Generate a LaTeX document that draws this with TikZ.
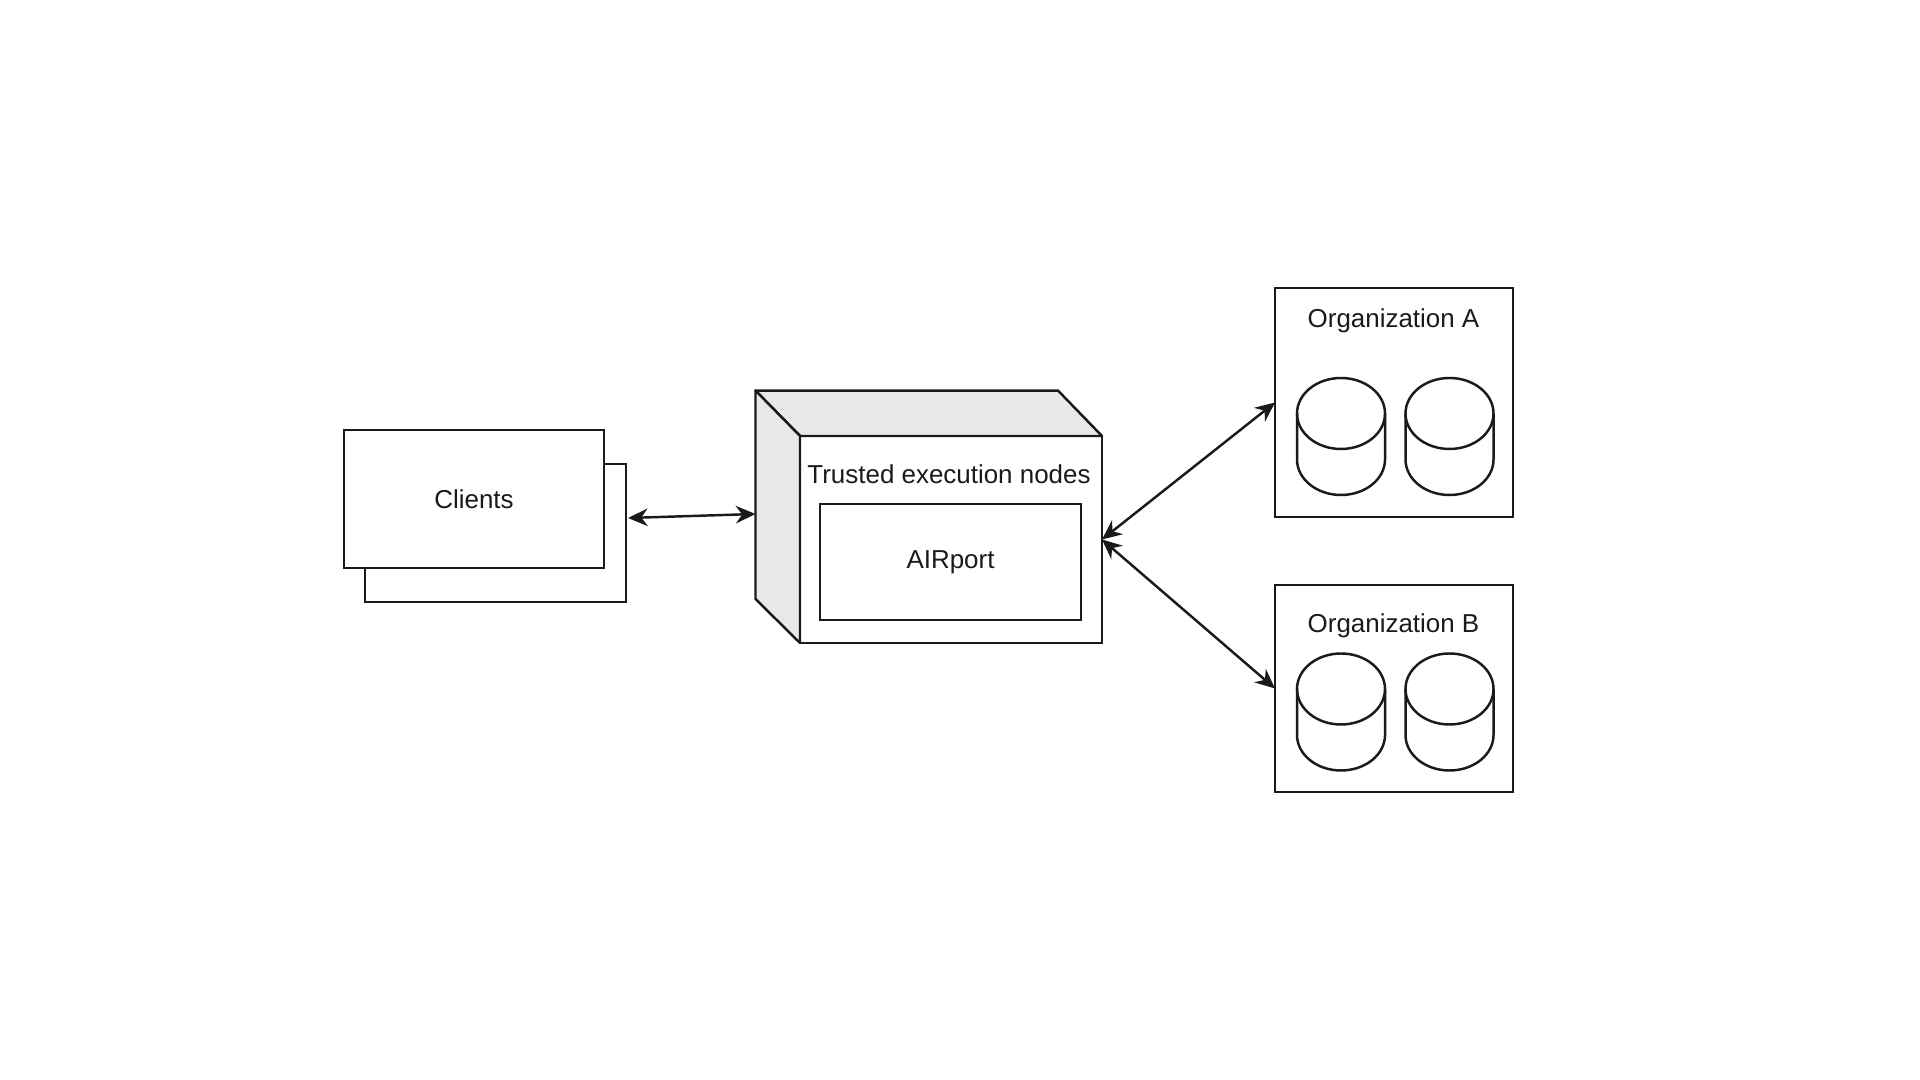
\documentclass[tikz,border=0pt]{standalone}
\usepackage{fontspec}
\usepackage{xcolor}
\usepackage{tikz}
\usetikzlibrary{arrows.meta}
\setmainfont{Liberation Sans}
\definecolor{cubegray}{HTML}{E8E8E8}
\definecolor{inkline}{HTML}{1A1A1A}
\begin{document}
\begin{tikzpicture}[line width=0.7pt, draw=inkline, >={Stealth[length=5.6pt,width=5pt]},
	every node/.style={font=\fontsize{7.38}{9}\selectfont, text=inkline, inner sep=0pt, outer sep=0pt},
	panel/.style={draw=inkline, fill=white, minimum width=#1}]
	\useasboundingbox (0,0) rectangle (19.2,10.8);
	% clients
	\node[panel=2.61cm, minimum height=1.385cm] (clientsback) at (4.955,5.47) {};
	\node[panel=2.60cm, minimum height=1.38cm] (clients) at (4.74,5.81) {Clients};
	% cube
	\node[panel=3.02cm, minimum height=2.07cm] (cubeface) at (9.51,5.405) {};
	\coordinate (cubeback) at (7.555,6.894);
	\coordinate (cubebackr) at (10.58,6.894);
	\coordinate (cubebackb) at (7.555,4.81);
	\draw[fill=cubegray, line join=round] (cubeback) -- (cubebackr) -- (cubeface.north east) -- (cubeface.north west) -- cycle;
	\draw[fill=cubegray, line join=round] (cubeback) -- (cubeface.north west) -- (cubeface.south west) -- (cubebackb) -- cycle;
	\node (trusted) at (9.49,6.06) {Trusted execution nodes};
	\node[panel=2.61cm, minimum height=1.155cm] (airport) at (9.505,5.18) {AIRport};
	% organizations
	\node[panel=2.38cm, minimum height=2.29cm] (orga) at (13.94,6.775) {};
	\node[panel=2.38cm, minimum height=2.07cm] (orgb) at (13.94,3.915) {};
	\node (orgatext) at (13.935,7.59) {Organization A};
	\node (orgbtext) at (13.935,4.54) {Organization B};
	\coordinate (diska) at (13.41,6.435);
	\coordinate (diskb) at (14.495,6.435);
	\coordinate (diskc) at (13.41,3.68);
	\coordinate (diskd) at (14.495,3.68);
	\foreach \d in {diska,diskb,diskc,diskd} {
		\draw ([shift={(-0.44,0.23)}]\d) -- ++(0,-0.46) arc[start angle=180, end angle=360, x radius=0.44, y radius=0.355] -- ++(0,0.46);
		\draw ([yshift=0.23cm]\d) ellipse [x radius=0.44, y radius=0.355];
	}
	% arrows
	\coordinate (clientsport) at (6.28,5.62);
	\coordinate (cubeport) at (7.555,5.66);
	\draw[<->] (clientsport) -- (cubeport);
	\draw[<->] (cubeface.east) -- (orga.west);
	\draw[<->] (cubeface.east) -- (orgb.west);
\end{tikzpicture}
\end{document}
